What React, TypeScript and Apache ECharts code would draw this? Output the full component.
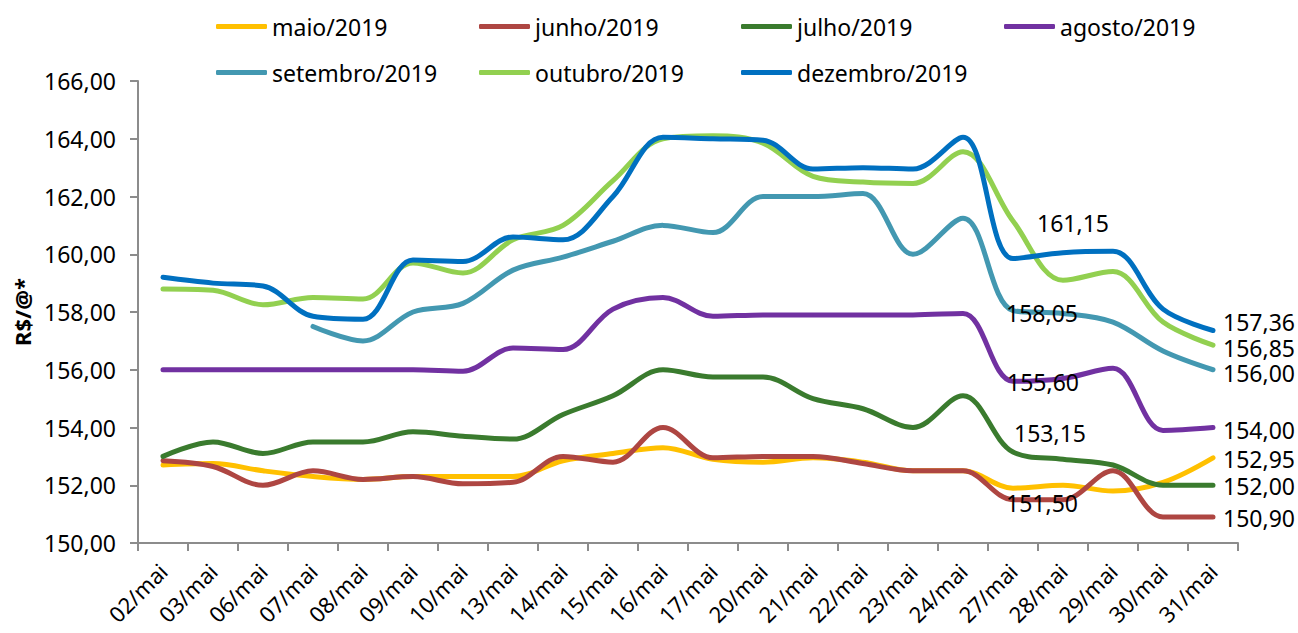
import React, { useEffect, useRef } from "react";
import * as echarts from "echarts";

const categories = ["02/mai","03/mai","06/mai","07/mai","08/mai","09/mai","10/mai","13/mai","14/mai","15/mai","16/mai","17/mai","20/mai","21/mai","22/mai","23/mai","24/mai","27/mai","28/mai","29/mai","30/mai","31/mai"];

const maio = [152.70,152.75,152.50,152.30,152.20,152.30,152.30,152.30,152.85,153.10,153.30,152.90,152.80,152.95,152.80,152.50,152.50,151.90,152.00,151.80,152.10,152.95];
const junho = [152.85,152.65,152.00,152.50,152.20,152.30,152.05,152.10,153.00,152.80,154.00,152.95,153.00,153.00,152.75,152.50,152.50,151.50,151.50,152.50,150.90,150.90];
const julho = [153.00,153.50,153.10,153.50,153.50,153.85,153.70,153.60,154.45,155.10,156.00,155.75,155.75,155.00,154.65,154.00,155.10,153.15,152.90,152.70,152.00,152.00];
const agosto = [156.00,156.00,156.00,156.00,156.00,156.00,155.95,156.75,156.70,158.10,158.50,157.85,157.90,157.90,157.90,157.90,157.95,155.60,155.70,156.05,153.90,154.00];
const setembro = [null,null,null,157.50,157.00,158.00,158.30,159.45,159.90,160.45,161.00,160.75,162.00,162.00,162.10,160.00,161.25,158.05,157.95,157.65,156.65,156.00];
const outubro = [158.80,158.75,158.25,158.50,158.45,159.70,159.35,160.50,161.00,162.55,164.00,164.10,163.85,162.70,162.50,162.45,163.55,161.15,159.10,159.40,157.65,156.85];
const dezembro = [159.20,159.00,158.90,157.85,157.75,159.80,159.75,160.60,160.50,162.00,164.05,164.00,163.95,162.95,163.00,162.95,164.05,159.85,160.05,160.10,158.10,157.36];

const seriesNames = ["maio/2019","junho/2019","julho/2019","agosto/2019","setembro/2019","outubro/2019","dezembro/2019"];
const seriesValues = [maio, junho, julho, agosto, setembro, outubro, dezembro];
const seriesColors = ["#FFC000","#AE4642","#3A7B2E","#7131A1","#4398B1","#92D050","#0070C0"];

// label placements: [category index, dx, dy] per series
const labelOffsets: Array<Array<[number, number, number]>> = [
  [[21, 46, 1]],
  [[17, 29, 3], [21, 46, 1]],
  [[17, 37, -19], [21, 46, 1]],
  [[17, 30, 1], [21, 46, 2]],
  [[17, 29, 2], [21, 46, 3]],
  [[17, 60, 2], [21, 46, 3]],
  [[21, 46, -8]],
];

const FONT = "Noto Sans";
const fmt = (v: number) => v.toFixed(2).replace(".", ",");

export default function App() {
  const ref = useRef<HTMLDivElement>(null);
  useEffect(() => {
    if (!ref.current) return;
    const chart = echarts.init(ref.current, undefined, { renderer: "svg" });
    const series = seriesNames.map((name, si) => {
      const offs = labelOffsets[si];
      const data = seriesValues[si].map((v, i) => {
        const o = offs.find((x) => x[0] === i);
        if (o && v != null) {
          return { value: v, label: { show: true, offset: [o[1], o[2]] } };
        }
        return v == null ? "-" : v;
      });
      return {
        name,
        type: "line",
        smooth: 0.35,
        showSymbol: true,
        showAllSymbol: true,
        symbol: "circle",
        symbolSize: 1,
        lineStyle: { width: 5, color: seriesColors[si], cap: "round" },
        itemStyle: { color: seriesColors[si] },
        label: {
          show: false,
          position: "inside",
          fontFamily: FONT,
          fontSize: 23,
          color: "#000",
          formatter: (p: any) => fmt(typeof p.value === "number" ? p.value : Number(p.value)),
        },
        emphasis: { disabled: true },
        data,
        z: 2 + si,
      };
    });
    const legendCols = [
      { left: 211, data: ["maio/2019", "setembro/2019"] },
      { left: 474, data: ["junho/2019", "outubro/2019"] },
      { left: 736, data: ["julho/2019", "dezembro/2019"] },
      { left: 999, data: ["agosto/2019"] },
    ];
    chart.setOption({
      animation: false,
      color: seriesColors,
      legend: legendCols.map((c) => ({
        left: c.left,
        top: 8,
        orient: "vertical",
        itemGap: 19,
        icon: "roundRect",
        itemWidth: 51,
        itemHeight: 5,
        selectedMode: false,
        data: c.data,
        textStyle: { fontFamily: FONT, fontSize: 23, color: "#000", lineHeight: 27 },
      })),
      grid: { left: 138, right: 60, top: 81, bottom: 90, containLabel: false },
      xAxis: {
        type: "category",
        data: categories,
        boundaryGap: true,
        axisLine: { lineStyle: { color: "#8C8C8C", width: 2 } },
        axisTick: { show: true, length: 8, lineStyle: { color: "#8C8C8C", width: 2 } },
        axisLabel: { rotate: 45, fontFamily: FONT, fontSize: 22, color: "#000", margin: 24, interval: 0 },
        splitLine: { show: false },
      },
      yAxis: {
        type: "value",
        min: 150,
        max: 166,
        interval: 2,
        name: "R$/@*",
        nameLocation: "middle",
        nameGap: 98,
        nameTextStyle: { fontFamily: FONT, fontSize: 22, fontWeight: "bold", color: "#000" },
        axisLine: { show: true, lineStyle: { color: "#8C8C8C", width: 2 } },
        axisTick: { show: true, length: 8, lineStyle: { color: "#8C8C8C", width: 2 } },
        axisLabel: { fontFamily: FONT, fontSize: 23, color: "#000", margin: 22, formatter: (v: number) => fmt(v) },
        splitLine: { show: false },
      },
      series,
    });
    return () => chart.dispose();
  }, []);
  return <div ref={ref} style={{ position: "fixed", left: 0, top: 0, width: 1298, height: 633, background: "#fff" }} />;
}
